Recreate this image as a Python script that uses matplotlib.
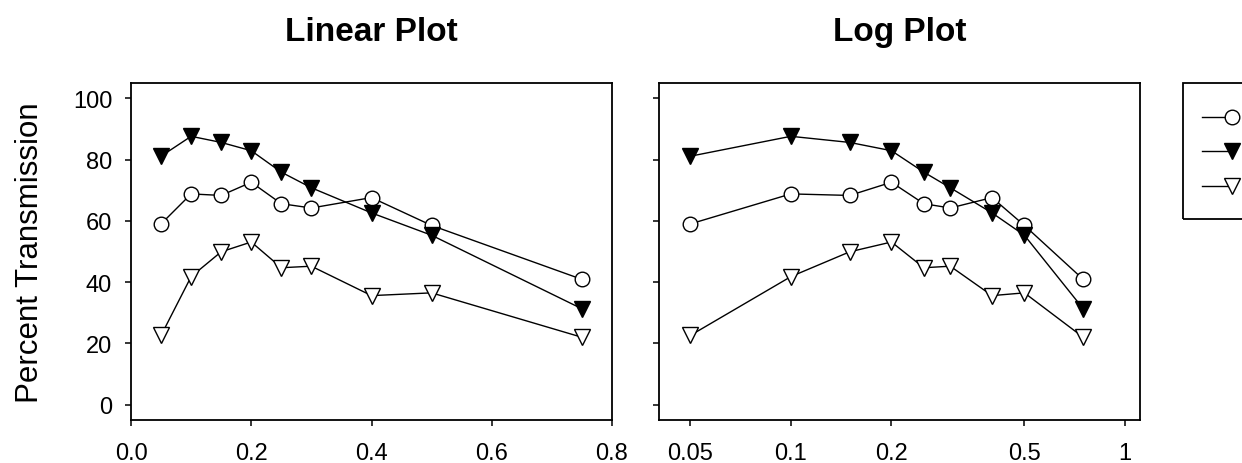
import matplotlib
matplotlib.use("Agg")
import matplotlib.pyplot as plt
from matplotlib.lines import Line2D
from matplotlib.patches import Rectangle
from matplotlib.ticker import FixedLocator, FixedFormatter, NullLocator

plt.rcParams['font.family'] = ['Liberation Sans', 'DejaVu Sans']

# ---- data ----
x = [0.05, 0.1, 0.15, 0.2, 0.25, 0.3, 0.4, 0.5, 0.75]
open_circles = [59.0, 68.8, 68.3, 72.6, 65.6, 64.2, 67.6, 58.5, 40.9]
filled_tri = [81.1, 87.6, 85.6, 82.9, 75.9, 70.8, 62.6, 55.3, 31.3]
open_tri = [22.6, 41.8, 49.9, 53.1, 44.7, 45.2, 35.6, 36.5, 22.0]

titles = ["Linear Plot", "Log Plot"]
ylabel = "Percent Transmission"
yticks = [0, 20, 40, 60, 80, 100]
lin_xticks = [0.0, 0.2, 0.4, 0.6, 0.8]
lin_xticklabels = ["0.0", "0.2", "0.4", "0.6", "0.8"]
log_xticks = [0.05, 0.1, 0.2, 0.5, 1]
log_xticklabels = ["0.05", "0.1", "0.2", "0.5", "1"]

W, H = 1242, 464
fig = plt.figure(figsize=(W / 100, H / 100), dpi=100)

def box(l, t, r, b):
    return [l / W, 1 - b / H, (r - l) / W, (b - t) / H]

ax1 = fig.add_axes(box(131, 84, 612, 421))
ax2 = fig.add_axes(box(659, 84, 1140, 421))

series = [
    (open_circles, dict(marker='o', mfc='white', mec='black', ms=10.5)),
    (filled_tri, dict(marker='v', mfc='black', mec='black', ms=11.5)),
    (open_tri, dict(marker='v', mfc='white', mec='black', ms=11.5)),
]

for ax in (ax1, ax2):
    for ys, st in series:
        ax.plot(x, ys, color='black', lw=1.0, mew=1.0, **st, clip_on=False)
    ax.set_ylim(-5, 105)
    ax.yaxis.set_major_locator(FixedLocator(yticks))
    ax.tick_params(axis='both', direction='out', length=4.5, width=1.1,
                   labelsize=17, color='black')
    ax.tick_params(axis='y', pad=9)
    ax.tick_params(axis='x', pad=11.5)
    for s in ax.spines.values():
        s.set_linewidth(1.3)

ax1.set_xlim(0, 0.8)
ax1.xaxis.set_major_locator(FixedLocator(lin_xticks))
ax1.xaxis.set_major_formatter(FixedFormatter(lin_xticklabels))
ax1.set_ylabel(ylabel, fontsize=22.5, labelpad=20)
ax1.set_title(titles[0], fontsize=24, fontweight='bold', pad=31)

ax2.set_xscale('log')
ax2.set_xlim(0.0403, 1.109)
ax2.xaxis.set_major_locator(FixedLocator(log_xticks))
ax2.xaxis.set_major_formatter(FixedFormatter(log_xticklabels))
ax2.xaxis.set_minor_locator(NullLocator())
ax2.set_yticklabels([])
ax2.set_title(titles[1], fontsize=24, fontweight='bold', pad=31)

# ---- legend (cut off at the right edge, as in the reference) ----
def fx(px):
    return px / W

def fy(py):
    return 1 - py / H

fig.add_artist(Rectangle((fx(1183), fy(220)), fx(1400) - fx(1183), fy(84) - fy(220),
                         transform=fig.transFigure, fill=False, lw=1.3,
                         edgecolor='black', clip_on=False))
for (ys, st), py in zip(series, [118, 152, 187]):
    fig.add_artist(Line2D([fx(1202), fx(1232)], [fy(py), fy(py)],
                          transform=fig.transFigure, color='black', lw=1.0))
    fig.add_artist(Line2D([fx(1232)], [fy(py)], transform=fig.transFigure,
                          lw=0, mew=1.0, **st))

fig.savefig("out.png", dpi=100)
